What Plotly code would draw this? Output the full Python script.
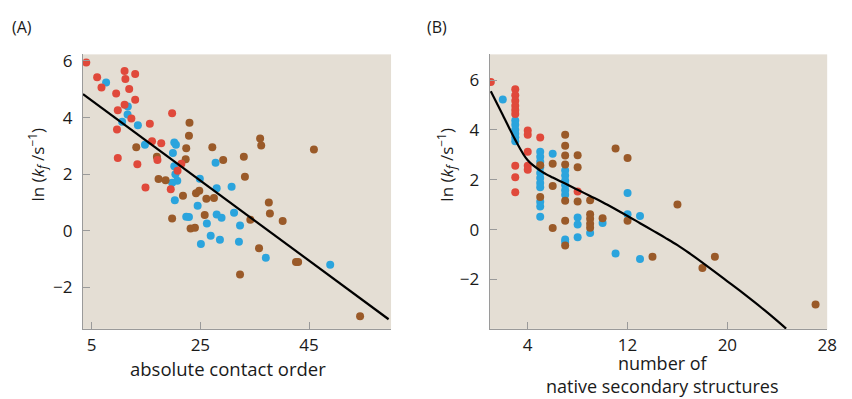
import plotly.graph_objects as go

# ---------------- Panel A: absolute contact order ----------------
a_red_x = [4.0, 6.0, 6.8, 11.05, 11.2, 13.0, 11.9, 9.5, 13.0, 11.05, 9.8, 12.3, 9.65,
           15.7, 19.8, 16.1, 17.8, 9.8, 13.4, 17.1, 21.5, 20.8, 14.9, 19.55]
a_red_y = [5.94, 5.42, 5.06, 5.64, 5.36, 5.54, 5.01, 4.85, 4.63, 4.45, 4.26, 3.97, 3.58,
           3.78, 4.15, 3.16, 3.09, 2.57, 2.35, 2.50, 2.37, 2.12, 1.53, 1.47]

a_blue_x = [7.65, 11.65, 11.6, 10.6, 13.5, 14.8, 20.2, 20.5, 19.95, 20.2, 20.4, 20.75, 19.8,
            20.3, 27.8, 24.9, 28.0, 30.75, 24.5, 22.4, 22.9, 26.2, 28.0, 28.9, 31.2,
            26.9, 28.6, 25.1, 32.1, 32.3, 37.05, 48.9]
a_blue_y = [5.24, 4.39, 4.11, 3.85, 3.73, 3.04, 3.12, 3.04, 2.75, 2.28, 2.00, 1.77, 1.70,
            1.08, 2.40, 1.84, 1.50, 1.56, 0.89, 0.50, 0.49, 0.26, 0.58, 0.46, 0.64,
            -0.17, -0.31, -0.46, -0.38, 0.19, -0.95, -1.20]

a_brown_x = [13.2, 17.0, 23.0, 22.9, 22.4, 22.3, 27.2, 29.2, 33.0, 36.0, 36.2, 45.9, 33.2,
             17.3, 18.6, 21.8, 24.2, 24.8, 26.1, 27.5, 19.8, 25.8, 23.2, 24.0, 34.2,
             37.6, 37.8, 40.15, 35.8, 42.6, 43.0, 32.3, 54.4]
a_brown_y = [2.95, 2.62, 3.82, 3.36, 2.92, 2.53, 2.95, 2.50, 2.62, 3.26, 3.01, 2.87, 1.91,
             1.83, 1.79, 1.24, 1.33, 1.42, 1.13, 1.16, 0.44, 0.56, 0.08, 0.11, 0.39,
             1.00, 0.61, 0.35, -0.61, -1.10, -1.10, -1.54, -3.01]

a_fit_x = [3.4, 59.65]
a_fit_y = [4.83, -3.12]

# ---------------- Panel B: number of native secondary structures ----------------
b_red_x = [1.04, 3, 3, 3, 3, 3, 3, 3, 3, 3, 4, 4, 4, 4, 4, 5, 8]
b_red_y = [5.92, 5.63, 5.39, 5.17, 4.97, 4.80, 4.64, 2.56, 2.10, 1.50, 3.98, 3.81, 3.12, 2.56, 2.40, 3.70, 1.53]

b_blue_x = [2, 3, 3, 3, 3, 3, 3,
            5, 5, 5, 5, 5, 5, 5, 5, 5, 5, 5,
            6, 7, 7, 7, 7, 7, 7, 7, 7,
            8, 8, 8, 9, 10, 11.04, 12, 12, 13, 13]
b_blue_y = [5.22, 4.38, 4.21, 4.01, 3.85, 3.71, 3.55,
            3.12, 2.92, 2.72, 2.50, 2.27, 2.07, 1.87, 1.70, 1.12, 0.93, 0.52,
            3.04, 2.37, 2.17, 1.97, 1.78, 1.58, 1.40, -0.39, -0.50,
            0.49, 0.21, -0.30, -0.13, 0.27, -0.96, 1.47, 0.62, 0.55, -1.18]

b_brown_x = [5, 5, 6, 6, 6, 7, 7, 7, 7, 7, 7, 7, 8, 8, 8,
             9, 9, 9, 9, 9, 10, 11.04, 12, 12, 14, 16, 18, 19, 27.07]
b_brown_y = [2.58, 1.31, 2.64, 1.75, 0.07, 3.81, 3.37, 2.97, 2.61, 1.16, 0.36, -0.64, 2.98, 2.50, 1.13,
             1.18, 0.62, 0.44, 0.24, 0.08, 0.46, 3.25, 2.87, 0.36, -1.09, 1.01, -1.54, -1.09, -3.00]

b_curve_x = [1.04, 2, 3, 4, 5, 6, 7, 8, 9, 10, 11, 12, 13, 14, 15, 16, 17, 18, 19, 20,
             21, 22, 23, 24, 24.71]
b_curve_y = [5.55, 4.60, 3.60, 2.78, 2.37, 2.09, 1.85, 1.60, 1.35, 1.10, 0.83, 0.55, 0.26,
             -0.03, -0.32, -0.62, -0.96, -1.32, -1.69, -2.07, -2.45, -2.84, -3.24, -3.66, -3.97]

RED = "#e0493b"
BLUE = "#2ba4dd"
BROWN = "#9a5a29"
BG = "#e4ded4"
FONT = "Open Sans, Liberation Sans, sans-serif"

W, H = 852, 399
fig = go.Figure()


def dots(x, y, color, xa, ya):
    fig.add_trace(go.Scatter(x=x, y=y, mode="markers", xaxis=xa, yaxis=ya,
                             marker=dict(color=color, size=8, line=dict(width=0)),
                             hoverinfo="skip"))


dots(a_blue_x, a_blue_y, BLUE, "x", "y")
dots(a_brown_x, a_brown_y, BROWN, "x", "y")
dots(a_red_x, a_red_y, RED, "x", "y")
fig.add_trace(go.Scatter(x=a_fit_x, y=a_fit_y, mode="lines", xaxis="x", yaxis="y",
                         line=dict(color="black", width=2.2)))

dots(b_blue_x, b_blue_y, BLUE, "x2", "y2")
dots(b_brown_x, b_brown_y, BROWN, "x2", "y2")
dots(b_red_x, b_red_y, RED, "x2", "y2")
fig.add_trace(go.Scatter(x=b_curve_x, y=b_curve_y, mode="lines", xaxis="x2", yaxis="y2",
                         line=dict(color="black", width=2.2, shape="spline", smoothing=1.0)))

ydom = [(H - 328) / H, (H - 50) / H]
axis_common = dict(showgrid=False, zeroline=False, showline=True, linecolor="#9a9a9a",
                   linewidth=1.3, ticks="inside", ticklen=7, tickcolor="#9a9a9a",
                   tickwidth=1.2, tickfont=dict(family=FONT, size=17, color="#1a1a1a"),
                   mirror=False)

fig.update_layout(
    width=W, height=H, margin=dict(l=0, r=0, t=0, b=0),
    paper_bgcolor="white", plot_bgcolor=BG, showlegend=False,
    font=dict(family=FONT, color="#1a1a1a"),
    xaxis=dict(domain=[84 / W, 395.7 / W], range=[3.4, 60.1], tickvals=[5, 25, 45],
               anchor="y", ticklabelstandoff=1, **axis_common),
    yaxis=dict(domain=ydom, range=[-3.46, 6.23], tickvals=[-2, 0, 2, 4, 6],
               anchor="x", ticklabelstandoff=6, **axis_common),
    xaxis2=dict(domain=[495.5 / W, 837 / W], range=[0.95, 28.0], tickvals=[4, 12, 20, 28],
                anchor="y2", ticklabelstandoff=1, **axis_common),
    yaxis2=dict(domain=ydom, range=[-3.98, 7.03], tickvals=[-2, 0, 2, 4, 6],
                anchor="x2", ticklabelstandoff=6, **axis_common),
)

ann = []
ann.append(dict(text="(A)", x=10 / W, y=(H - 22) / H, xanchor="left", yanchor="middle",
                font=dict(size=16)))
ann.append(dict(text="(B)", x=430 / W, y=(H - 22) / H, xanchor="left", yanchor="middle",
                font=dict(size=16)))
ytitle = "ln (<i>k</i><sub><i>f</i></sub> /s<sup>−1</sup>)"
ann.append(dict(text=ytitle, x=38 / W, y=(H - 162) / H, textangle=-90,
                xanchor="center", yanchor="middle", font=dict(size=17)))
ann.append(dict(text=ytitle, x=452 / W, y=(H - 162) / H, textangle=-90,
                xanchor="center", yanchor="middle", font=dict(size=17)))
ann.append(dict(text="absolute contact order", x=230.5 / W, y=(H - 368) / H,
                xanchor="center", yanchor="middle", font=dict(size=18.5)))
ann.append(dict(text="number of<br>native secondary structures", x=670 / W, y=(H - 374) / H,
                xanchor="center", yanchor="middle", font=dict(size=18)))
for a in ann:
    a.update(xref="paper", yref="paper", showarrow=False)
fig.update_layout(annotations=ann)

fig.write_html("out.html", config={"displayModeBar": False},
               post_script="document.body.style.margin='0px';document.body.style.overflow='hidden';")
